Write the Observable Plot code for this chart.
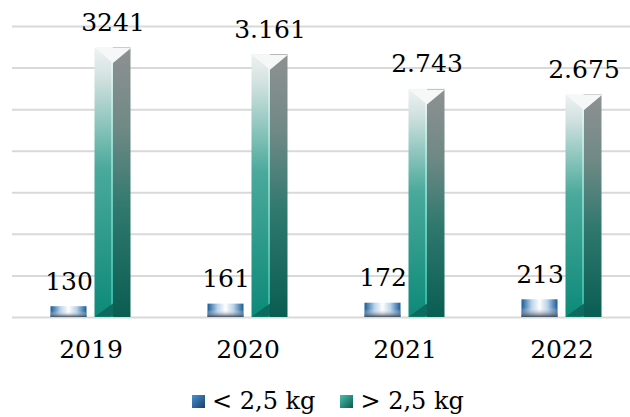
<!DOCTYPE html>
<html><head><meta charset="utf-8">
<script src="https://cdn.jsdelivr.net/npm/d3@7"></script>
<script src="https://cdn.jsdelivr.net/npm/@observablehq/plot@0.6"></script>
<style>
body{margin:0;background:#fff;width:630px;height:417px;overflow:hidden;font-family:"DejaVu Serif","Liberation Serif",serif;color:#000}
#legend{display:flex;align-items:center;height:32px;padding-left:192px;font-size:24px;line-height:32px}
#legend .item{display:flex;align-items:center;margin-right:25px}
#legend svg{margin-right:7px}
</style>
</head><body><div id="chart"></div><div id="legend"></div>
<script>
const years = ["2019", "2020", "2021", "2022"];
const under = [130, 161, 172, 213];
const over = [3241, 3161, 2743, 2675];
const underLabels = ["130", "161", "172", "213"];
const overLabels = ["3241", "3.161", "2.743", "2.675"];
const yTicks = [0, 500, 1000, 1500, 2000, 2500, 3000, 3500];
const seriesNames = ["< 2,5 kg", "> 2,5 kg"];

const rows = years.map((y, i) => ({year: y, under: under[i], over: over[i], ul: underLabels[i], ol: overLabels[i]}));

function grad(defs, id, stops, horiz) {
  const g = defs.append("linearGradient").attr("id", id)
    .attr("x1", 0).attr("y1", 0).attr("x2", horiz ? 1 : 0).attr("y2", horiz ? 0 : 1);
  stops.forEach(([o, c, a]) => g.append("stop").attr("offset", o).attr("stop-color", c).attr("stop-opacity", a == null ? 1 : a));
}
const defsMark = () => {
  const s = d3.create("svg:defs");
  grad(s, "tealL", [[0, "#eef2f2"], [0.12, "#cfe0de"], [0.45, "#4aa99b"], [1, "#0d8a79"]]);
  grad(s, "tealR", [[0, "#8e9191"], [0.3, "#6f8985"], [0.6, "#2f786e"], [1, "#0a5d52"]]);
  grad(s, "tealHi", [[0, "#f4faf9"], [0.4, "#8fd8cc"], [1, "#2db4a0"]]);
  grad(s, "blueH", [[0, "#195b98"], [0.28, "#b9d3ea"], [0.5, "#ffffff"], [0.72, "#b9d3ea"], [1, "#195b98"]], true);
  grad(s, "blueV", [[0, "#ffffff", 0], [0.45, "#ffffff", 0], [1, "#3a4856", 0.95]]);
  return s.node();
};

const topBevel = {draw(ctx) { ctx.moveTo(-18, 0); ctx.lineTo(18, 0); ctx.lineTo(0, 15); ctx.closePath(); }};
const bottomBevel = {draw(ctx) { ctx.moveTo(-18, 0); ctx.lineTo(0, -13); ctx.lineTo(0, 0); ctx.closePath(); }};

const FONT = "'DejaVu Serif', 'Liberation Serif', serif";
const chart = Plot.plot({
  width: 630, height: 385,
  marginTop: 26, marginBottom: 68, marginLeft: 12, marginRight: 0,
  style: {fontFamily: FONT, fontSize: "25px", color: "#000", background: "#fff"},
  x: {domain: years, range: [11.5, 639.5], padding: 0, label: null},
  y: {domain: [0, 3500], axis: null},
  marks: [
    defsMark,
    Plot.ruleY(yTicks, {stroke: "#d9d9d9", strokeWidth: 2}),
    // < 2,5 kg
    Plot.barY(rows, {x: "year", y: "under", insetLeft: 38.5, insetRight: 82.5, fill: "url(#blueH)"}),
    Plot.barY(rows, {x: "year", y: "under", insetLeft: 38.5, insetRight: 82.5, fill: "url(#blueV)"}),
    // > 2,5 kg
    Plot.barY(rows, {x: "year", y: "over", insetLeft: 82.5, insetRight: 56.5, fill: "url(#tealL)"}),
    Plot.barY(rows, {x: "year", y: "over", insetLeft: 100.5, insetRight: 38.5, fill: "url(#tealR)"}),
    Plot.barY(rows, {x: "year", y: "over", insetLeft: 99, insetRight: 56, fill: "url(#tealHi)"}),
    Plot.dot(rows, {x: "year", y: "over", dx: 22, symbol: topBevel, fill: "#f6f8f8", stroke: "none"}),
    Plot.dot(rows, {x: "year", y: () => 0, dx: 22, dy: -1, symbol: bottomBevel, fill: "#0c6a5e", stroke: "none"}),
    Plot.axisX({tickSize: 0, tickPadding: 23, fontSize: 25, fill: "#000", label: null}),
    Plot.text(rows, {x: "year", y: "under", text: "ul", dx: -22, dy: -17, lineAnchor: "bottom", fontSize: 25, fill: "#000"}),
    Plot.text(rows, {x: "year", y: "over", text: "ol", dx: 22, dy: -17, lineAnchor: "bottom", fontSize: 25, fill: "#000"})
  ]
});
document.getElementById("chart").appendChild(chart);

// legend
const legend = d3.select("#legend");
const swatches = [["#4b8fd0", "#16406a"], ["#46c0ab", "#0b5a50"]];
seriesNames.forEach((name, i) => {
  const item = legend.append("div").attr("class", "item");
  const svg = item.append("svg").attr("width", 13).attr("height", 13);
  const g = svg.append("defs").append("linearGradient").attr("id", "lg" + i)
    .attr("x1", 0).attr("y1", 0).attr("x2", 1).attr("y2", 1);
  g.append("stop").attr("offset", 0).attr("stop-color", swatches[i][0]);
  g.append("stop").attr("offset", 1).attr("stop-color", swatches[i][1]);
  svg.append("rect").attr("width", 13).attr("height", 13).attr("fill", `url(#lg${i})`);
  item.append("span").text(name);
});
</script>
</body></html>
